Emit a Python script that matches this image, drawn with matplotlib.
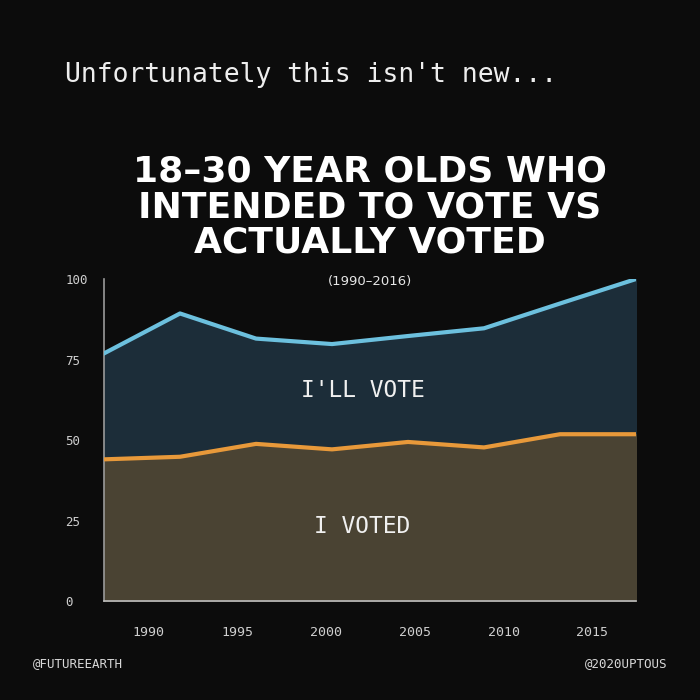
import matplotlib.pyplot as plt
import numpy as np

# data
years = [1988, 1992, 1996, 2000, 2004, 2008, 2012, 2016]
will_vote = [76.9, 89.3, 81.5, 79.8, 82.3, 84.7, 92.4, 100.0]
voted = [44.0, 44.8, 48.8, 47.1, 49.4, 47.7, 51.8, 51.8]

tick_labels = ['1990', '1995', '2000', '2005', '2010', '2015']
tick_pos = np.linspace(1990.35, 2013.7, 6)   # labels sit a bit off the data grid
y_ticks = [0, 25, 50, 75, 100]

bg = '#0c0c0c'
mono = 'DejaVu Sans Mono'

fig = plt.figure(figsize=(7, 7), dpi=100, facecolor=bg)
ax = fig.add_axes([0.1486, 0.1414, 0.76, 0.46])
ax.set_facecolor(bg)

# areas
ax.fill_between(years, 0, will_vote, color='#1c2d39', zorder=1)
ax.fill_between(years, 0, voted, color='#4a4333', zorder=2)
ax.plot(years, will_vote, color='#6cc0de', lw=3, zorder=3)
ax.plot(years, voted, color='#e8993a', lw=3, zorder=3)

ax.set_xlim(1988, 2016)
ax.set_ylim(0, 100)

for s in ['top', 'right']:
    ax.spines[s].set_visible(False)
ax.spines['left'].set_color('#9a9a9a')
ax.spines['bottom'].set_color('#bdbdbd')
ax.spines['left'].set_linewidth(1.2)
ax.spines['bottom'].set_linewidth(1.2)

ax.set_yticks(y_ticks)
ax.set_yticklabels([str(v) for v in y_ticks], fontfamily=mono, fontsize=9,
                   color='#cfcfcf', ha='left')
ax.tick_params(axis='y', length=0, pad=28)
ax.set_xticks(tick_pos)
ax.set_xticklabels(tick_labels, fontfamily=mono, fontsize=9.5, color='#cfcfcf')
ax.tick_params(axis='x', length=0, pad=18)

# labels inside the areas
ax.text(2001.6, 65.3, "I'LL VOTE", fontfamily=mono, fontsize=16.5,
        color='#f0f0f0', ha='center', va='center', zorder=4)
ax.text(2001.6, 23, "I VOTED", fontfamily=mono, fontsize=16.5,
        color='#f0f0f0', ha='center', va='center', zorder=4)

# texts on the figure
fig.text(65 / 700, 1 - 75 / 700, "Unfortunately this isn't new...",
         fontfamily=mono, fontsize=19, color='#eeeeee', va='center', ha='left')
fig.text(370 / 700, 1 - 207 / 700,
         "18\u201330 YEAR OLDS WHO\nINTENDED TO VOTE VS\nACTUALLY VOTED",
         fontfamily='DejaVu Sans', fontweight='bold', fontsize=26,
         color='white', ha='center', va='center', linespacing=1.06)
fig.text(370 / 700, 1 - 282 / 700, "(1990\u20132016)", fontsize=9.5,
         color='#e6e6e6', ha='center', va='center')
fig.text(33 / 700, 1 - 664 / 700, "@FUTUREEARTH", fontfamily=mono,
         fontsize=9, color='#d8d8d8', ha='left', va='center')
fig.text(667 / 700, 1 - 664 / 700, "@2020UPTOUS", fontfamily=mono,
         fontsize=9, color='#d8d8d8', ha='right', va='center')

fig.savefig('out.png', dpi=100, facecolor=bg)
